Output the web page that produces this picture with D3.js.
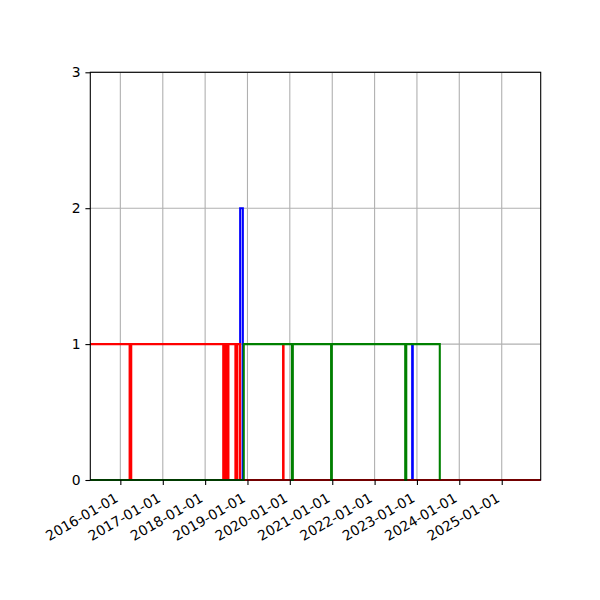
<!DOCTYPE html>
<html>
<head>
<meta charset="utf-8">
<script src="https://cdn.jsdelivr.net/npm/d3@7"></script>
<style>
  body { margin: 0; background: #fff; }
  text { font-family: "DejaVu Sans", sans-serif; }
</style>
</head>
<body>
<div id="chart"></div>
<script>
// step series: date where the count changes, and the count from that date on
const redDates = ["2015-04-17", "2016-03-21", "2016-04-04", "2018-06-06", "2018-06-12",
  "2018-06-18", "2018-06-24", "2018-06-30", "2018-07-06", "2018-07-12", "2018-07-21",
  "2018-09-19", "2018-10-06", "2018-10-29", "2019-11-04", "2019-11-08", "2025-12-03"];
const redCounts = [1, 0, 1, 0, 1, 0, 1, 0, 1, 0, 1, 0, 1, 0, 1, 0, 0];

const blueDates = ["2015-04-17", "2018-10-30", "2018-11-22", "2022-11-21", "2022-11-26", "2025-12-03"];
const blueCounts = [0, 2, 0, 1, 0, 0];

const greenDates = ["2015-04-17", "2018-11-30", "2020-01-19", "2020-01-27", "2020-12-22",
  "2020-12-28", "2022-09-22", "2022-10-01", "2023-07-17"];
const greenCounts = [0, 1, 0, 1, 0, 1, 0, 1, 0];

const xStart = "2015-04-17";
const xEnd = "2025-12-03";
const xTicks = ["2016-01-01", "2017-01-01", "2018-01-01", "2019-01-01", "2020-01-01",
  "2021-01-01", "2022-01-01", "2023-01-01", "2024-01-01", "2025-01-01"];
const yTicks = [0, 1, 2, 3];

let width = 600;
let height = 600;
const margin = {top: 72.3, right: 59.3, bottom: 120, left: 90.3};

let parse = d3.utcParse("%Y-%m-%d");

let svg = d3.select("#chart").append("svg")
  .attr("width", width)
  .attr("height", height);

let x = d3.scaleUtc()
  .domain([parse(xStart), parse(xEnd)])
  .range([margin.left, width - margin.right]);

let y = d3.scaleLinear()
  .domain([0, 3])
  .range([height - margin.bottom, margin.top]);

// grid
svg.append("g")
  .selectAll("line")
  .data(xTicks)
  .enter()
  .append("line")
  .attr("x1", d => x(parse(d))).attr("x2", d => x(parse(d)))
  .attr("y1", y(0)).attr("y2", y(3))
  .attr("stroke", "#b0b0b0").attr("stroke-width", 1.1);

svg.append("g")
  .selectAll("line")
  .data(yTicks)
  .enter()
  .append("line")
  .attr("x1", x.range()[0]).attr("x2", x.range()[1])
  .attr("y1", d => y(d)).attr("y2", d => y(d))
  .attr("stroke", "#b0b0b0").attr("stroke-width", 1.1);

// step lines
let line = d3.line()
  .x(d => x(d.date))
  .y(d => y(d.count))
  .curve(d3.curveStepAfter);

function toSteps(dates, counts) {
  return dates.map((d, i) => ({date: parse(d), count: counts[i]}));
}

const series = [
  {color: "blue", steps: toSteps(blueDates, blueCounts)},
  {color: "red", steps: toSteps(redDates, redCounts)},
  {color: "green", steps: toSteps(greenDates, greenCounts)}
];

series.forEach(s => {
  svg.append("path")
    .datum(s.steps)
    .attr("d", line)
    .attr("fill", "none")
    .attr("stroke", s.color)
    .attr("stroke-width", 2.08)
    .attr("stroke-linejoin", "miter");
});

// axes
let xAxis = d3.axisBottom(x)
  .tickValues(xTicks.map(parse))
  .tickSize(4.9)
  .tickPadding(4.9)
  .tickFormat(d3.utcFormat("%Y-%m-%d"));

let gx = svg.append("g")
  .attr("transform", `translate(0, ${y(0)})`)
  .call(xAxis);
gx.select(".domain").remove();
gx.selectAll(".tick line").attr("stroke", "#000").attr("stroke-width", 1.1);
gx.selectAll(".tick text")
  .attr("font-size", "13.9px")
  .attr("fill", "#000")
  .attr("text-anchor", "end")
  .attr("dy", null)
  .attr("y", null)
  .attr("transform", "translate(-1.6, 20.8) rotate(-30)");

let yAxis = d3.axisLeft(y)
  .tickValues(yTicks)
  .tickSize(4.9)
  .tickPadding(4.9)
  .tickFormat(d3.format("d"));

let gy = svg.append("g")
  .attr("transform", `translate(${x.range()[0]}, 0)`)
  .call(yAxis);
gy.select(".domain").remove();
gy.selectAll(".tick line").attr("stroke", "#000").attr("stroke-width", 1.1);
gy.selectAll(".tick text")
  .attr("font-size", "13.9px")
  .attr("fill", "#000");

// spines
svg.append("rect")
  .attr("x", x.range()[0])
  .attr("y", y(3))
  .attr("width", x.range()[1] - x.range()[0])
  .attr("height", y(0) - y(3))
  .attr("fill", "none")
  .attr("stroke", "#000")
  .attr("stroke-width", 1.1);
</script>
</body>
</html>
